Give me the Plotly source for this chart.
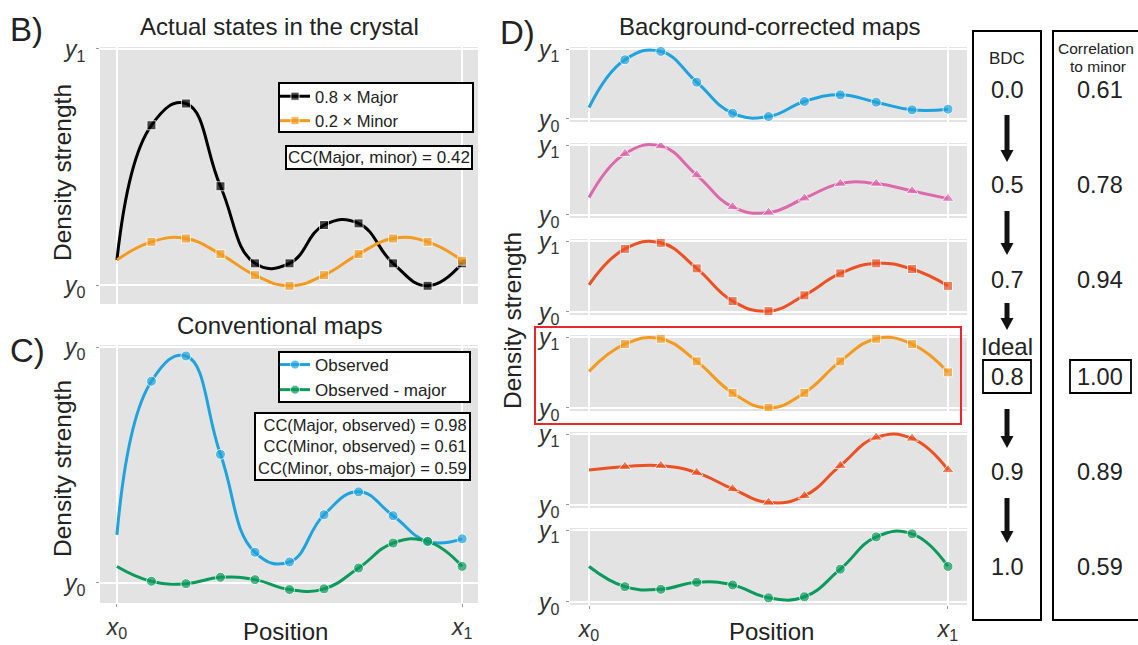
import plotly.graph_objects as go

W, H = 1138, 645
def px(x): return x / W
def py(y): return 1 - y / H

FONT = "Liberation Sans"

# ---------------- data ----------------
positions = list(range(11))

major_scaled = [0.106, 0.676, 0.768, 0.418, 0.092, 0.092, 0.254, 0.261, 0.092, -0.003, 0.092]
minor_scaled = [0.106, 0.183, 0.197, 0.131, 0.042, -0.003, 0.042, 0.131, 0.197, 0.183, 0.103]

observed = [0.204, 0.855, 0.962, 0.545, 0.130, 0.089, 0.289, 0.386, 0.285, 0.176, 0.187]
obs_minus_major = [0.070, 0.007, -0.003, 0.024, 0.014, -0.028, -0.025, 0.063, 0.169, 0.176, 0.070]

bdc_00 = [0.163, 0.847, 0.967, 0.526, 0.081, 0.033, 0.249, 0.344, 0.239, 0.129, 0.139]
bdc_05 = [0.248, 0.876, 0.986, 0.571, 0.114, 0.033, 0.238, 0.448, 0.448, 0.343, 0.233]
bdc_07 = [0.381, 0.890, 0.976, 0.614, 0.152, 0.010, 0.233, 0.543, 0.686, 0.605, 0.367]
bdc_08 = [0.516, 0.901, 0.977, 0.657, 0.211, 0.000, 0.211, 0.657, 0.977, 0.901, 0.502]
bdc_09 = [0.493, 0.540, 0.554, 0.455, 0.225, 0.033, 0.127, 0.554, 0.953, 0.939, 0.493]
bdc_10 = [0.493, 0.211, 0.174, 0.272, 0.235, 0.056, 0.070, 0.455, 0.906, 0.948, 0.493]

bdc_labels = ["0.0", "0.5", "0.7", "0.8", "0.9", "1.0"]
corr_to_minor = ["0.61", "0.78", "0.94", "1.00", "0.89", "0.59"]

x_ticktext = ["<i>x</i><sub>0</sub>", "<i>x</i><sub>1</sub>"]
y_ticktext = ["<i>y</i><sub>0</sub>", "<i>y</i><sub>1</sub>"]
y_ticktext_c = ["<i>y</i><sub>0</sub>", "<i>y</i><sub>0</sub>"]

# ---------------- colours ----------------
BLACK = "#000000"
ORANGE = "#F39A1F"
BLUE = "#1FA3DD"
GREEN = "#0A9A5C"
PINK = "#DE68AC"
RED = "#EC5124"
BG = "#E3E3E3"

MSIZE = {"circle": 10, "square": 9, "triangle-up": 11}

fig = go.Figure()

def add_series(y, xa, ya, color, symbol, name, legend=None, showlegend=False):
    fig.add_trace(go.Scatter(
        x=positions, y=y, xaxis=xa, yaxis=ya, mode="lines+markers",
        line=dict(color=color, width=3, shape="spline", smoothing=1.3),
        marker=dict(symbol=symbol, size=[0] + [MSIZE[symbol]] * 10, color=color),
        name=name, showlegend=showlegend, legend=legend, hoverinfo="skip"))

# Panel B
add_series(major_scaled, "x", "y", BLACK, "square", "0.8 × Major", "legend", True)
add_series(minor_scaled, "x", "y", ORANGE, "square", "0.2 × Minor", "legend", True)
# Panel C
add_series(observed, "x2", "y2", BLUE, "circle", "Observed", "legend2", True)
add_series(obs_minus_major, "x2", "y2", GREEN, "circle", "Observed - major", "legend2", True)
# Panel D
d_series = [(bdc_00, BLUE, "circle"), (bdc_05, PINK, "triangle-up"), (bdc_07, RED, "square"),
            (bdc_08, ORANGE, "square"), (bdc_09, RED, "triangle-up"), (bdc_10, GREEN, "circle")]
for i, (ys, col, sym) in enumerate(d_series):
    add_series(ys, "x%d" % (i + 3), "y%d" % (i + 3), col, sym, "BDC " + bdc_labels[i])

tickfont = dict(family=FONT, size=23, color="#333333")

def xaxis(domain, rng, anchor, labels):
    return dict(domain=domain, range=rng, anchor=anchor, tickvals=[0, 10], ticktext=x_ticktext,
                showticklabels=labels, ticks="outside" if labels else "", ticklen=3,
                tickcolor="#999999", showgrid=True, gridcolor="white", gridwidth=1.5,
                zeroline=False, showline=False, tickfont=tickfont, ticklabelstandoff=0,
                fixedrange=True, automargin=False)

def yaxis(domain, rng, anchor, text, standoff):
    return dict(domain=domain, range=rng, anchor=anchor, tickvals=[0, 1], ticktext=text,
                ticks="outside", ticklen=3, tickcolor="#999999", showgrid=True,
                gridcolor="white", gridwidth=1.5, zeroline=False, showline=False,
                tickfont=tickfont, ticklabelstandoff=standoff, fixedrange=True,
                automargin=False)

layout = dict(
    width=W, height=H, margin=dict(l=0, r=0, t=0, b=0, pad=0, autoexpand=False),
    paper_bgcolor="white", plot_bgcolor=BG, font=dict(family=FONT, color="#222222"),
)
layout["xaxis"] = xaxis([px(100), px(478)], [-0.49, 10.46], "y", False)
layout["yaxis"] = yaxis([py(304), py(47)], [-0.08, 1.007], "x", y_ticktext, 6)
layout["xaxis2"] = xaxis([px(100), px(478)], [-0.49, 10.46], "y2", True)
layout["yaxis2"] = yaxis([py(603), py(345)], [-0.085, 1.0085], "x2", y_ticktext_c, 6)

d_domains = [(47, 122), (143, 218), (239, 315), (335, 411), (432, 508), (528, 605)]
for i, (t, b) in enumerate(d_domains):
    n = i + 3
    layout["xaxis%d" % n] = xaxis([px(570), px(967)], [-0.53, 10.53], "y%d" % n, i == 5)
    layout["yaxis%d" % n] = yaxis([py(b), py(t)], [-0.045, 1.03], "x%d" % n, y_ticktext, 2)

layout["legend"] = dict(x=px(275), y=py(79), xanchor="left", yanchor="top",
                        bgcolor="rgba(0,0,0,0)", borderwidth=0,
                        font=dict(family=FONT, size=16.5, color="#222222"),
                        tracegroupgap=0, itemwidth=30)
layout["legend2"] = dict(x=px(275), y=py(347), xanchor="left", yanchor="top",
                         bgcolor="rgba(0,0,0,0)", borderwidth=0,
                         font=dict(family=FONT, size=17, color="#222222"),
                         tracegroupgap=0, itemwidth=30)

shapes = []
def rect(x0, y0, x1, y1, width=2, color="black", fill="white", layer="above"):
    shapes.append(dict(type="rect", xref="paper", yref="paper", x0=px(x0), x1=px(x1),
                       y0=py(y1), y1=py(y0), line=dict(color=color, width=width),
                       fillcolor=fill, layer=layer))

# legend boxes
rect(279, 83, 473, 132)
rect(279, 352, 470, 402)
# red highlight box
rect(535, 327, 961, 424, width=2, color="#E8282B", fill="rgba(0,0,0,0)")
# right column boxes
rect(973, 31, 1041, 620)
rect(1053, 31, 1150, 620)
rect(983, 360, 1031, 393, width=1.8)
rect(1070, 360, 1131, 393, width=1.8)

# arrows
arrows = [(115, 162), (211, 255), (303, 330), (409, 448), (498, 543)]
AX = 1007
for top, tip in arrows:
    base = tip - 12
    shapes.append(dict(type="rect", xref="paper", yref="paper", x0=px(AX - 2.5), x1=px(AX + 2.5),
                       y0=py(base + 1), y1=py(top), line=dict(width=0), fillcolor="#111111"))
    shapes.append(dict(type="path", xref="paper", yref="paper",
                       path="M %f,%f L %f,%f L %f,%f Z" % (px(AX - 6.5), py(base), px(AX + 6.5), py(base), px(AX), py(tip)),
                       line=dict(width=0), fillcolor="#111111"))
layout["shapes"] = shapes

ann = []
def text(x, y, s, size, xanchor="center", yanchor="middle", angle=0, color="#222222", **kw):
    d = dict(xref="paper", yref="paper", x=px(x), y=py(y), text=s, showarrow=False,
             xanchor=xanchor, yanchor=yanchor, textangle=angle,
             font=dict(family=FONT, size=size, color=color))
    d.update(kw)
    ann.append(d)

# panel letters
text(8, 29, "B)", 33, xanchor="left")
text(8, 350, "C)", 33, xanchor="left")
text(498, 33, "D)", 33, xanchor="left")
# titles
text(279, 27, "Actual states in the crystal", 24)
text(279, 325, "Conventional maps", 24)
text(769, 27, "Background-corrected maps", 24)
# axis titles
text(62, 173, "Density strength", 24.5, angle=-90)
text(62, 469, "Density strength", 24.5, angle=-90)
text(512, 320, "Density strength", 24.5, angle=-90)
text(285, 631, "Position", 24)
text(771, 631, "Position", 24)
# CC boxes
text(473, 145, "CC(Major, minor) = 0.42", 17, xanchor="right", yanchor="top",
     bordercolor="black", borderwidth=2, bgcolor="white", borderpad=1)
text(471, 412, "CC(Major, observed) = 0.98<br>CC(Minor, observed) = 0.61<br>CC(Minor, obs-major) = 0.59",
     16.5, xanchor="right", yanchor="top", align="right",
     bordercolor="black", borderwidth=2, bgcolor="white", borderpad=2)
# right column
text(1007, 58, "BDC", 17)
text(1096, 48, "Correlation", 15.5)
text(1098, 67, "to minor", 15.5)
text(1007, 346, "Ideal", 24)
row_y = [90, 185, 280, 377, 472, 567]
for yv, b, c in zip(row_y, bdc_labels, corr_to_minor):
    text(1007, yv, b, 23.5)
    text(1100, yv, c, 23.5)
layout["annotations"] = ann

fig.update_layout(**layout)
fig.write_html("out.html", config={"displayModeBar": False},
               post_script="document.body.style.margin='0px';document.body.style.overflow='hidden';")
